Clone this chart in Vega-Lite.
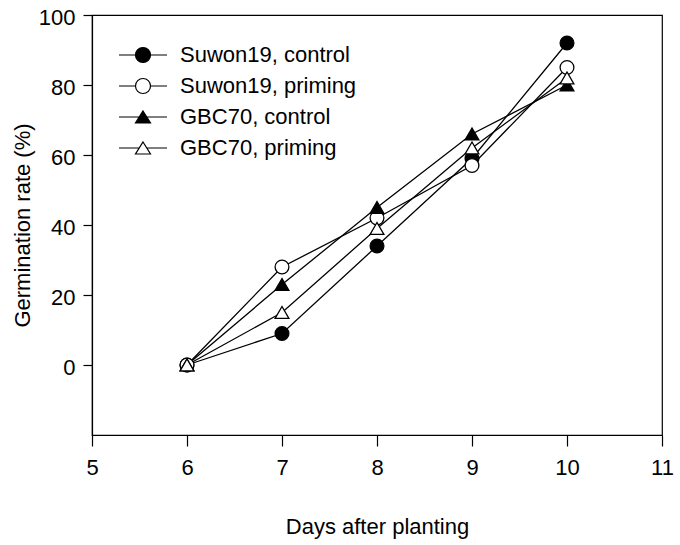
{
  "$schema": "https://vega.github.io/schema/vega-lite/v6.json",
  "autosize": "none",
  "width": 570,
  "height": 420,
  "padding": {"left": 92, "top": 15, "right": 18, "bottom": 110},
  "background": "white",
  "config": {
    "font": "Liberation Sans",
    "view": {"stroke": "black", "strokeWidth": 1.2},
    "axis": {
      "grid": false,
      "domainColor": "black",
      "domainWidth": 1.2,
      "tickColor": "black",
      "tickWidth": 1.2,
      "labelColor": "black",
      "titleColor": "black",
      "labelFont": "Liberation Sans",
      "titleFont": "Liberation Sans",
      "titleFontWeight": "normal"
    },
    "legend": {
      "labelFont": "Liberation Sans",
      "labelColor": "black",
      "labelLimit": 400,
      "labelFontSize": 22,
      "orient": "none",
      "padding": 0,
      "symbolSize": 144,
      "symbolStrokeColor": "black",
      "symbolStrokeWidth": 1.2,
      "labelOffset": 26,
      "rowPadding": 9
    }
  },
  "data": {
    "values": [
      {"day": 6, "rate": 0, "series": "Suwon19, control"},
      {"day": 7, "rate": 9, "series": "Suwon19, control"},
      {"day": 8, "rate": 34, "series": "Suwon19, control"},
      {"day": 9, "rate": 59, "series": "Suwon19, control"},
      {"day": 10, "rate": 92, "series": "Suwon19, control"},
      {"day": 6, "rate": 0, "series": "Suwon19, priming"},
      {"day": 7, "rate": 28, "series": "Suwon19, priming"},
      {"day": 8, "rate": 42, "series": "Suwon19, priming"},
      {"day": 9, "rate": 57, "series": "Suwon19, priming"},
      {"day": 10, "rate": 85, "series": "Suwon19, priming"},
      {"day": 6, "rate": 0, "series": "GBC70, control"},
      {"day": 7, "rate": 23, "series": "GBC70, control"},
      {"day": 8, "rate": 45, "series": "GBC70, control"},
      {"day": 9, "rate": 66, "series": "GBC70, control"},
      {"day": 10, "rate": 80, "series": "GBC70, control"},
      {"day": 6, "rate": 0, "series": "GBC70, priming"},
      {"day": 7, "rate": 15, "series": "GBC70, priming"},
      {"day": 8, "rate": 39, "series": "GBC70, priming"},
      {"day": 9, "rate": 62, "series": "GBC70, priming"},
      {"day": 10, "rate": 82, "series": "GBC70, priming"}
    ]
  },
  "encoding": {
    "x": {
      "field": "day",
      "type": "quantitative",
      "scale": {"domain": [5, 11], "nice": false, "zero": false},
      "axis": {
        "title": "Days after planting",
        "values": [5, 6, 7, 8, 9, 10, 11],
        "tickSize": 11,
        "labelPadding": 11,
        "labelFontSize": 22,
        "titleFontSize": 22,
        "titleY": 91,
        "titleBaseline": "middle",
        "labelFlush": false
      }
    },
    "y": {
      "field": "rate",
      "type": "quantitative",
      "scale": {"domain": [-20, 100], "nice": false, "zero": false},
      "axis": {
        "title": "Germination rate (%)",
        "values": [0, 20, 40, 60, 80, 100],
        "tickSize": 9,
        "labelPadding": 8,
        "labelOffset": 2,
        "labelFontSize": 22,
        "titleFontSize": 22,
        "titleX": -70,
        "titleY": 210,
        "titleBaseline": "middle",
        "labelFlush": false
      }
    }
  },
  "layer": [
    {
      "mark": {"type": "line", "color": "black", "strokeWidth": 1.3},
      "encoding": {"detail": {"field": "series"}}
    },
    {
      "transform": [{"filter": "indexof(datum.series, 'Suwon') === 0"}],
      "mark": {"type": "point", "shape": "circle", "filled": true, "size": 190, "stroke": "black", "strokeWidth": 1.3, "opacity": 1},
      "encoding": {
        "fill": {
          "field": "series",
          "type": "nominal",
          "scale": {
            "domain": ["Suwon19, control", "Suwon19, priming"],
            "range": ["black", "white"]
          },
          "legend": {
            "title": null,
            "legendX": 40,
            "legendY": 29,
            "symbolType": "M-4,0H-1.25M1.25,0H4M-1.25,0A1.25,1.25,0,1,1,1.25,0A1.25,1.25,0,1,1,-1.25,0Z"
          }
        }
      }
    },
    {
      "transform": [{"filter": "indexof(datum.series, 'GBC') === 0"}],
      "mark": {"type": "point", "shape": "triangle-up", "filled": true, "size": 190, "stroke": "black", "strokeWidth": 1.3, "opacity": 1},
      "encoding": {
        "fill": {
          "field": "series",
          "type": "nominal",
          "scale": {
            "domain": ["GBC70, control", "GBC70, priming"],
            "range": ["black", "white"]
          },
          "legend": {
            "title": null,
            "legendX": 40,
            "legendY": 91,
            "symbolType": "M-4,0H-0.625M0.625,0H4M0,-1L1.25,1L-1.25,1Z"
          }
        }
      }
    }
  ],
  "resolve": {"scale": {"fill": "independent"}, "legend": {"fill": "independent"}}
}
